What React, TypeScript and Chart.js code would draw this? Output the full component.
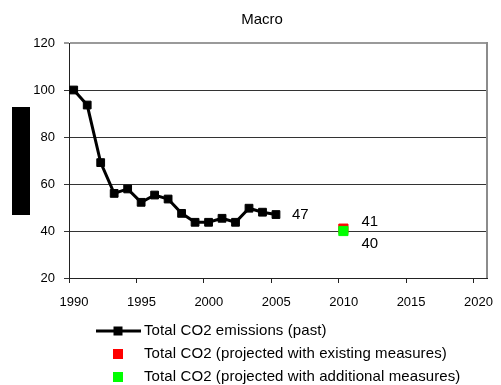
import { useEffect, useRef } from "react";
import { Chart, registerables } from "chart.js";

Chart.register(...registerables);

const FONT = "'Liberation Sans', Arial, sans-serif";

const TITLE = "Macro";
const PAST_YEARS = [1990, 1991, 1992, 1993, 1994, 1995, 1996, 1997, 1998, 1999, 2000, 2001, 2002, 2003, 2004, 2005];
const PAST_VALUES = [100, 93.6, 69.1, 56.0, 57.9, 52.2, 55.3, 53.6, 47.5, 43.7, 43.7, 45.4, 43.7, 49.7, 48.0, 47];
const PROJECTION_YEAR = 2010;
const EXISTING_MEASURES = [41];
const ADDITIONAL_MEASURES = [40];
const SERIES_LABELS = [
  "Total CO2 emissions (past)",
  "Total CO2 (projected with existing measures)",
  "Total CO2 (projected with additional measures)",
];
const X_TICKS = [1990, 1995, 2000, 2005, 2010, 2015, 2020];
const Y_TICKS = [20, 40, 60, 80, 100, 120];

// yearly values sit a little to the right of the year tick
const YEAR_SHIFT = 0.35;

const toPoints = (years: number[], values: number[]) =>
  values.map((v, i) => ({ x: years[i] + YEAR_SHIFT, y: v }));

// value callouts: dataset index -> point index and text offset
const CALLOUTS = [
  { dataset: 0, index: PAST_VALUES.length - 1, dx: 16, dy: 0 },
  { dataset: 1, index: 0, dx: 18, dy: -7 },
  { dataset: 2, index: 0, dx: 18, dy: 13 },
];

const decorations = {
  id: "decorations",
  afterDraw(chart: any) {
    const ctx = chart.ctx as CanvasRenderingContext2D;
    const area = chart.chartArea;
    ctx.save();

    // title
    ctx.fillStyle = "#000";
    ctx.font = `15px ${FONT}`;
    ctx.textAlign = "center";
    ctx.textBaseline = "middle";
    ctx.fillText(TITLE, 262, 19.5);

    // axis title block
    ctx.fillRect(12, 107, 18, 108);

    // right frame of the plot area
    ctx.strokeStyle = "#8c8c8c";
    ctx.lineWidth = 2;
    ctx.beginPath();
    ctx.moveTo(area.right, area.top - 1);
    ctx.lineTo(area.right, area.bottom);
    ctx.stroke();

    // value callouts
    ctx.font = `15px ${FONT}`;
    ctx.textAlign = "left";
    ctx.textBaseline = "middle";
    ctx.fillStyle = "#000";
    for (const c of CALLOUTS) {
      const meta = chart.getDatasetMeta(c.dataset);
      const el = meta.data[c.index];
      const raw = chart.data.datasets[c.dataset].data[c.index] as any;
      if (!el) continue;
      ctx.fillText(String(Math.round(raw.y)), el.x + c.dx, el.y + c.dy);
    }

    // legend
    const rows = [331, 354, 377];
    const symX = 118;
    const textX = 144;
    chart.data.datasets.forEach((ds: any, i: number) => {
      const y = rows[i];
      if (ds.showLine !== false) {
        ctx.strokeStyle = ds.borderColor;
        ctx.lineWidth = 3;
        ctx.beginPath();
        ctx.moveTo(96, y);
        ctx.lineTo(141, y);
        ctx.stroke();
        ctx.fillStyle = ds.backgroundColor;
        ctx.fillRect(symX - 4.5, y - 4.5, 9, 9);
      } else {
        ctx.fillStyle = ds.backgroundColor;
        ctx.fillRect(symX - 5, y - 5, 10, 10);
      }
      ctx.fillStyle = "#000";
      ctx.font = `15px ${FONT}`;
      (ctx as any).letterSpacing = "0.1px";
      ctx.textAlign = "left";
      ctx.textBaseline = "middle";
      ctx.fillText(ds.label, textX, y);
      (ctx as any).letterSpacing = "0px";
    });

    ctx.restore();
  },
};

export default function App() {
  const canvasRef = useRef<HTMLCanvasElement | null>(null);

  useEffect(() => {
    if (!canvasRef.current) return;
    const chart = new Chart(canvasRef.current, {
      type: "line",
      data: {
        datasets: [
          {
            label: SERIES_LABELS[0],
            data: toPoints(PAST_YEARS, PAST_VALUES),
            borderColor: "#000000",
            backgroundColor: "#000000",
            borderWidth: 3,
            pointStyle: "rect",
            pointRadius: 5.5,
            pointBorderWidth: 1,
            tension: 0,
            order: 0,
          },
          {
            label: SERIES_LABELS[1],
            data: toPoints([PROJECTION_YEAR], EXISTING_MEASURES),
            borderColor: "#ff0000",
            backgroundColor: "#ff0000",
            showLine: false,
            pointStyle: "rect",
            pointRadius: 6.5,
            pointBorderWidth: 1,
            order: 2,
          },
          {
            label: SERIES_LABELS[2],
            data: toPoints([PROJECTION_YEAR], ADDITIONAL_MEASURES),
            borderColor: "#00ff00",
            backgroundColor: "#00ff00",
            showLine: false,
            pointStyle: "rect",
            pointRadius: 6.5,
            pointBorderWidth: 1,
            order: 1,
          },
        ],
      },
      options: {
        animation: false,
        responsive: true,
        maintainAspectRatio: false,
        layout: { padding: { top: 43, right: 14, bottom: 77, left: 0 } },
        plugins: {
          legend: { display: false },
          title: { display: false },
          tooltip: { enabled: false },
        },
        scales: {
          x: {
            type: "linear",
            min: X_TICKS[0],
            max: 2021,
            afterBuildTicks: (scale: any) => {
              scale.ticks = X_TICKS.map((v) => ({ value: v }));
            },
            afterFit: (scale: any) => {
              scale.height = 30;
            },
            ticks: {
              callback: (v: any) => String(v),
              color: "#000",
              font: { family: FONT, size: 13 },
              padding: 12,
              labelOffset: 5,
              maxRotation: 0,
              autoSkip: false,
            },
            grid: {
              drawOnChartArea: false,
              drawTicks: true,
              tickLength: 5,
              color: "#222",
            },
            border: { display: true, color: "#222", width: 1 },
          },
          y: {
            type: "linear",
            min: Y_TICKS[0],
            max: Y_TICKS[Y_TICKS.length - 1],
            afterBuildTicks: (scale: any) => {
              scale.ticks = Y_TICKS.map((v) => ({ value: v }));
            },
            afterFit: (scale: any) => {
              scale.width = 69;
            },
            ticks: {
              callback: (v: any) => String(v),
              color: "#000",
              font: { family: FONT, size: 13 },
              padding: 9,
            },
            grid: {
              drawTicks: true,
              tickLength: 5,
              color: (c: any) => (c.tick && c.tick.value === 120 ? "#9a9a9a" : "#333"),
              lineWidth: (c: any) => (c.tick && c.tick.value === 120 ? 2 : 1),
            },
            border: { display: true, color: "#222", width: 1 },
          },
        },
      },
      plugins: [decorations],
    });
    return () => chart.destroy();
  }, []);

  return (
    <div style={{ position: "fixed", left: 0, top: 0, width: 501, height: 385, background: "#fff" }}>
      <canvas ref={canvasRef} />
    </div>
  );
}
